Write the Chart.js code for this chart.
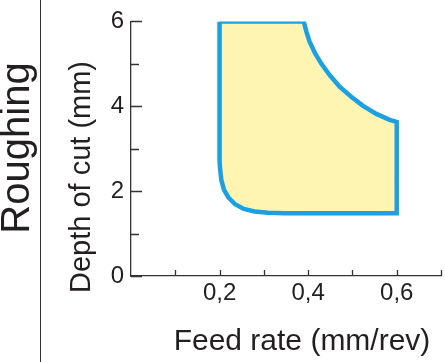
<!DOCTYPE html>
<html>
<head>
<meta charset="utf-8">
<script src="https://cdn.jsdelivr.net/npm/chart.js@4/dist/chart.umd.min.js"></script>
<style>
  html, body { margin: 0; padding: 0; background: #fff; }
  #wrap { width: 445px; height: 362px; position: relative; }
</style>
</head>
<body>
<div id="wrap"><canvas id="chart"></canvas></div>
<script>
// outline of the roughing window, read clockwise from the top-left corner
const feedRate = [
  0.2, 0.39, 0.396, 0.403, 0.415, 0.43, 0.449, 0.471, 0.498, 0.524, 0.554, 0.584, 0.6,
  0.6, 0.347, 0.309, 0.279, 0.255, 0.235, 0.22, 0.21, 0.204, 0.2015, 0.2, 0.2
];
const depthOfCut = [
  6, 6, 5.76, 5.53, 5.26, 5.0, 4.73, 4.46, 4.22, 4.01, 3.82, 3.68, 3.63,
  1.48, 1.48, 1.49, 1.52, 1.58, 1.69, 1.85, 2.03, 2.26, 2.49, 2.7, 6
];

const xTicks = [0.1, 0.2, 0.3, 0.4, 0.5, 0.6, 0.7];
const xLabels = ['', '0,2', '', '0,4', '', '0,6', ''];
const yTicks = [0, 1, 2, 3, 4, 5, 6];
const yLabels = ['0', '', '2', '', '4', '', '6'];

const FONT = '"Liberation Sans", Arial, sans-serif';
const INK = '#231f20';

const points = feedRate.map((f, i) => ({ x: f, y: depthOfCut[i] }));

const decor = {
  id: 'decor',
  afterDraw(chart) {
    const { ctx, chartArea, scales } = chart;
    const x = scales.x, y = scales.y;
    ctx.save();
    ctx.strokeStyle = '#333';
    ctx.lineWidth = 1.3;
    // inward tick marks
    ctx.beginPath();
    yTicks.forEach((v, i) => {
      const py = Math.round(y.getPixelForValue(v)) + 0.5;
      ctx.moveTo(chartArea.left, py);
      ctx.lineTo(chartArea.left + (yLabels[i] ? 11 : 8), py);
    });
    xTicks.forEach(v => {
      const px = Math.round(x.getPixelForValue(v)) + 0.5;
      ctx.moveTo(px, chartArea.bottom);
      ctx.lineTo(px, chartArea.bottom - 6);
    });
    ctx.stroke();

    // separator line
    ctx.lineWidth = 1;
    ctx.beginPath();
    ctx.moveTo(40.5, 0);
    ctx.lineTo(40.5, 362);
    ctx.stroke();

    ctx.fillStyle = INK;
    ctx.textAlign = 'center';
    ctx.textBaseline = 'middle';

    ctx.font = '30px ' + FONT;
    ctx.fillText('Feed rate (mm/rev)', 302, 342);

    ctx.save();
    ctx.translate(82, 177);
    ctx.rotate(-Math.PI / 2);
    ctx.font = '29px ' + FONT;
    ctx.fillText('Depth of cut (mm)', 0, 0);
    ctx.restore();

    ctx.save();
    ctx.translate(18, 148);
    ctx.rotate(-Math.PI / 2);
    ctx.font = '40px ' + FONT;
    ctx.fillText('Roughing', 0, 0);
    ctx.restore();

    ctx.restore();
  }
};

new Chart(document.getElementById('chart').getContext('2d'), {
  type: 'scatter',
  data: {
    datasets: [{
      data: points,
      showLine: true,
      fill: 'shape',
      backgroundColor: '#fef5b3',
      borderColor: '#1ba1e2',
      borderWidth: 4.5,
      borderJoinStyle: 'miter',
      tension: 0,
      pointRadius: 0,
      pointHoverRadius: 0,
    }],
  },
  options: {
    animation: false,
    responsive: true,
    maintainAspectRatio: false,
    layout: { padding: { top: 12, right: 4, left: 0, bottom: 0 } },
    plugins: {
      legend: { display: false },
      tooltip: { enabled: false },
    },
    scales: {
      x: {
        type: 'linear',
        min: 0,
        max: 0.7,
        afterFit: s => { s.height = 86; },
        afterBuildTicks: s => { s.ticks = xTicks.map(v => ({ value: v })); },
        ticks: {
          autoSkip: false,
          maxRotation: 0,
          padding: 3,
          color: INK,
          font: { family: FONT, size: 24 },
          callback: (v, i) => xLabels[i],
        },
        grid: { display: true, drawOnChartArea: false, drawTicks: false },
        border: { color: '#333', width: 1.3 },
      },
      y: {
        type: 'linear',
        min: 0,
        max: 6,
        afterFit: s => { s.width = 131; },
        afterBuildTicks: s => { s.ticks = yTicks.map(v => ({ value: v })); },
        ticks: {
          autoSkip: false,
          padding: 7,
          color: INK,
          font: { family: FONT, size: 24 },
          callback: (v, i) => yLabels[i],
        },
        grid: { display: true, drawOnChartArea: false, drawTicks: false },
        border: { color: '#333', width: 1.3 },
      },
    },
  },
  plugins: [decor],
});
</script>
</body>
</html>
